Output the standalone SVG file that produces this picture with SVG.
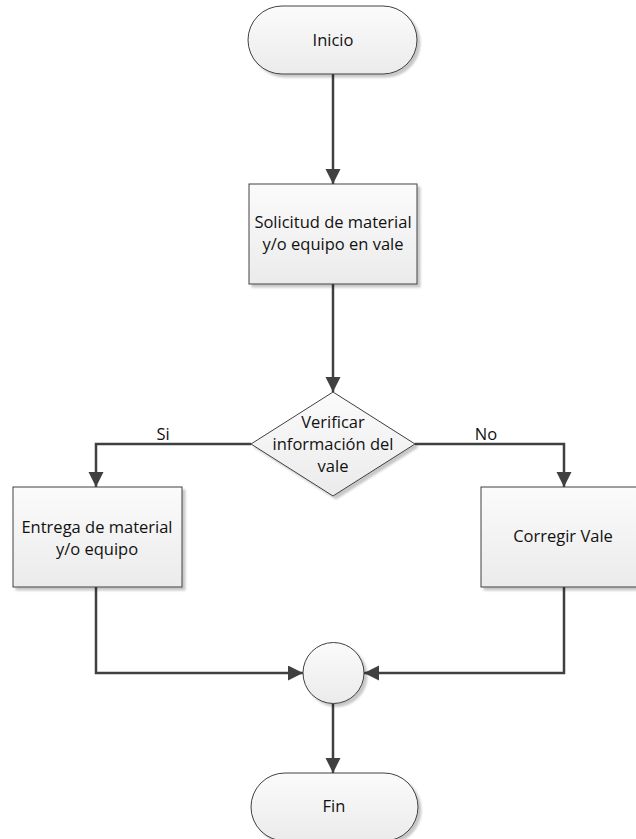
<svg xmlns="http://www.w3.org/2000/svg" width="636" height="839" viewBox="0 0 636 839">
  <defs>
    <linearGradient id="shapeFill" x1="0" y1="0" x2="0" y2="1">
      <stop offset="0" stop-color="#fbfbfb"/>
      <stop offset="1" stop-color="#ebebeb"/>
    </linearGradient>
    <filter id="shadow" x="-10%" y="-10%" width="125%" height="130%">
      <feDropShadow dx="3" dy="3" stdDeviation="1" flood-color="#000" flood-opacity="0.22"/>
    </filter>
    <marker id="arrow" markerUnits="userSpaceOnUse" markerWidth="16" markerHeight="16" refX="15" refY="7.5" orient="auto">
      <path d="M0,0 L15,7.5 L0,15 Z" fill="#404040"/>
    </marker>
    <style>
      .shape { fill: url(#shapeFill); stroke: #404040; stroke-width: 1; filter: url(#shadow); }
      .label { font-family: "Open Sans", "Liberation Sans", sans-serif; font-size: 16.5px; fill: #111111; text-anchor: middle; }
      .edge { fill: none; stroke: #404040; stroke-width: 2.5; }
    </style>
  </defs>

  <rect width="636" height="839" fill="#ffffff"/>

  <g id="connectors">
    <path class="edge" d="M333,74 V184" marker-end="url(#arrow)"/>
    <path class="edge" d="M333,284 V392" marker-end="url(#arrow)"/>
    <path class="edge" d="M251,444 H96 V487" marker-end="url(#arrow)"/>
    <path class="edge" d="M415,444 H564 V487" marker-end="url(#arrow)"/>
    <path class="edge" d="M96,587 V673 H303" marker-end="url(#arrow)"/>
    <path class="edge" d="M564,587 V673 H364" marker-end="url(#arrow)"/>
    <path class="edge" d="M333,703 V773" marker-end="url(#arrow)"/>
    <text class="label" x="163" y="440">Si</text>
    <text class="label" x="486" y="440">No</text>
  </g>

  <g id="inicio">
    <rect class="shape" x="248" y="6" width="169" height="68" rx="34" ry="34"/>
    <text class="label" x="333" y="46">Inicio</text>
  </g>

  <g id="solicitud">
    <rect class="shape" x="249" y="184" width="168" height="100"/>
    <text class="label" x="333" y="228">Solicitud de material</text>
    <text class="label" x="333" y="250">y/o equipo en vale</text>
  </g>

  <g id="verificar">
    <polygon class="shape" points="333,392 415,444 333,496 251,444"/>
    <text class="label" x="333" y="428">Verificar</text>
    <text class="label" x="333" y="450">información del</text>
    <text class="label" x="333" y="472">vale</text>
  </g>

  <g id="entrega">
    <rect class="shape" x="13" y="487" width="169" height="100"/>
    <text class="label" x="97" y="533">Entrega de material</text>
    <text class="label" x="97" y="555">y/o equipo</text>
  </g>

  <g id="corregir">
    <rect class="shape" x="481" y="487" width="169" height="100"/>
    <text class="label" x="563" y="542">Corregir Vale</text>
  </g>

  <g id="union">
    <circle class="shape" cx="333.5" cy="673" r="30.5"/>
  </g>

  <g id="fin">
    <rect class="shape" x="251" y="773" width="167" height="68" rx="34" ry="34"/>
    <text class="label" x="334" y="812">Fin</text>
  </g>
</svg>
